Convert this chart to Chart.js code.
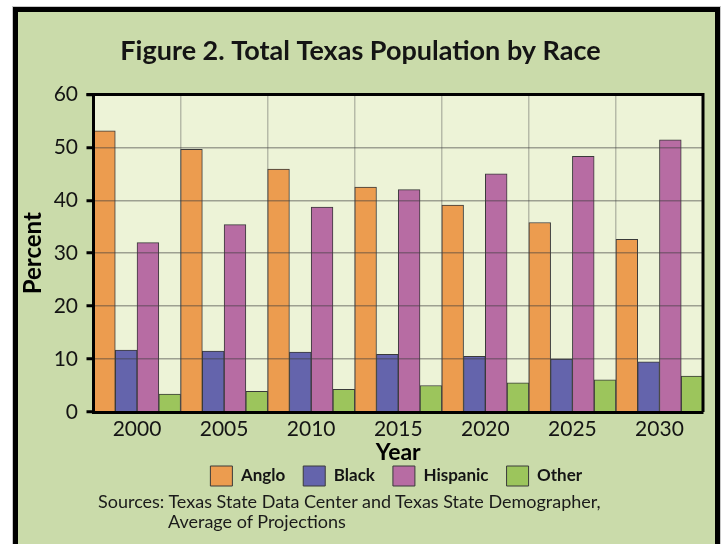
<!DOCTYPE html>
<html lang="en">
<head>
    <meta charset="UTF-8">
    <title>Figure 2. Total Texas Population by Race</title>
    <script src="https://cdn.jsdelivr.net/npm/chart.js"></script>
    <style>
        html, body { margin: 0; padding: 0; background: #fff; overflow: hidden; }
        #panel {
            position: absolute;
            left: 13px; top: 7px;
            width: 707px; height: 560px;
            box-sizing: border-box;
            background: #cadbaa;
            border: 5px solid #000;
            outline: 1px solid #c8c8c8;
        }
        #wrap { position: absolute; left: 0; top: 0; width: 724px; height: 544px; }
        #sources {
            position: absolute;
            left: 98px; top: 491px;
            font: 18px Lato, sans-serif;
            line-height: 20px;
            color: #1a1a1a;
            white-space: nowrap;
        }
        #sources span { display: block; }
        #sources .indent { padding-left: 70px; }
    </style>
</head>
<body>
    <div id="panel"></div>
    <div id="wrap"><canvas id="raceChart"></canvas></div>
    <div id="sources">
        <span>Sources: Texas State Data Center and Texas State Demographer,</span>
        <span class="indent">Average of Projections</span>
    </div>

    <script>
        const years = ['2000', '2005', '2010', '2015', '2020', '2025', '2030'];
        const anglo = [53.1, 49.6, 45.9, 42.5, 39.1, 35.8, 32.6];
        const black = [11.7, 11.5, 11.3, 10.9, 10.5, 10.0, 9.5];
        const hispanic = [32.0, 35.4, 38.7, 42.0, 45.0, 48.3, 51.4];
        const other = [3.4, 3.9, 4.3, 5.0, 5.5, 6.1, 6.8];
        const yTicks = [0, 10, 20, 30, 40, 50, 60];

        const ink = '#141414';
        const edge = '#3a3a3a';

        // plot background + the black top/right frame of the plot
        const plotFrame = {
            id: 'plotFrame',
            beforeDraw(chart) {
                const {ctx, chartArea: a} = chart;
                ctx.save();
                ctx.fillStyle = '#edf3d7';
                ctx.fillRect(a.left, a.top, a.right - a.left, a.bottom - a.top);
                ctx.restore();
            },
            afterDraw(chart) {
                const {ctx, chartArea: a} = chart;
                ctx.save();
                ctx.strokeStyle = '#000';
                ctx.lineWidth = 3;
                ctx.beginPath();
                ctx.moveTo(a.left - 7, a.top);
                ctx.lineTo(a.right, a.top);
                ctx.lineTo(a.right, a.bottom);
                ctx.stroke();
                ctx.restore();
            }
        };

        // legend sits right under "Year", centred on the plot
        const legendShift = {
            id: 'legendShift',
            afterLayout(chart) {
                const lg = chart.legend, a = chart.chartArea;
                const dx = (a.left + a.right) / 2 - (lg.left + lg.right) / 2 - 2;
                lg.left += dx; lg.right += dx;
                lg.top -= 18; lg.bottom -= 18;
            }
        };

        function ds(label, data, color) {
            return {
                label: label,
                data: data,
                backgroundColor: color,
                borderColor: edge,
                borderWidth: 1,
                categoryPercentage: 1.0,
                barPercentage: 1.0
            };
        }

        new Chart(document.getElementById('raceChart'), {
            type: 'bar',
            data: {
                labels: years,
                datasets: [
                    ds('Anglo', anglo, '#ec9c4f'),
                    ds('Black', black, '#6464ac'),
                    ds('Hispanic', hispanic, '#b76ca3'),
                    ds('Other', other, '#9cc55c')
                ]
            },
            options: {
                responsive: true,
                maintainAspectRatio: false,
                animation: false,
                layout: { padding: { left: 18, right: 21, top: 0, bottom: 30 } },
                plugins: {
                    title: {
                        display: true,
                        text: 'Figure 2. Total Texas Population by Race',
                        color: ink,
                        font: { family: 'Lato', size: 27, weight: 'bold' },
                        padding: { top: 35, bottom: 27 }
                    },
                    legend: {
                        position: 'bottom',
                        labels: {
                            color: ink,
                            font: { family: 'Lato', size: 17, weight: 'bold' },
                            boxWidth: 22,
                            boxHeight: 20,
                            padding: 18
                        }
                    },
                    tooltip: { enabled: false }
                },
                scales: {
                    x: {
                        afterFit: s => { s.height = 54; },
                        grid: {
                            z: 1,
                            color: 'rgba(80, 80, 80, 0.35)',
                            lineWidth: 1.5,
                            drawTicks: false
                        },
                        border: { color: '#000', width: 3, z: 2 },
                        ticks: {
                            color: ink,
                            padding: 5,
                            font: { family: 'Lato', size: 21 }
                        },
                        title: {
                            display: true,
                            text: 'Year',
                            color: '#000',
                            font: { family: 'Lato', size: 23, weight: 'bold' },
                            padding: { top: 0, bottom: 0 }
                        }
                    },
                    y: {
                        min: 0,
                        max: 60,
                        afterFit: s => { s.width = 75.5; },
                        afterBuildTicks: s => { s.ticks = yTicks.map(v => ({ value: v })); },
                        grid: {
                            z: 1,
                            color: 'rgba(60, 60, 60, 0.45)',
                            lineWidth: 1.5,
                            tickColor: '#000',
                            tickWidth: 3,
                            tickLength: 7
                        },
                        border: { color: '#000', width: 3, z: 2 },
                        ticks: {
                            color: ink,
                            padding: 8.5,
                            font: { family: 'Lato', size: 21 }
                        },
                        title: {
                            display: true,
                            text: 'Percent',
                            color: '#000',
                            font: { family: 'Lato', size: 24, weight: 'bold' },
                            padding: { top: 1, bottom: 0 }
                        }
                    }
                }
            },
            plugins: [plotFrame, legendShift]
        });
    </script>
</body>
</html>
